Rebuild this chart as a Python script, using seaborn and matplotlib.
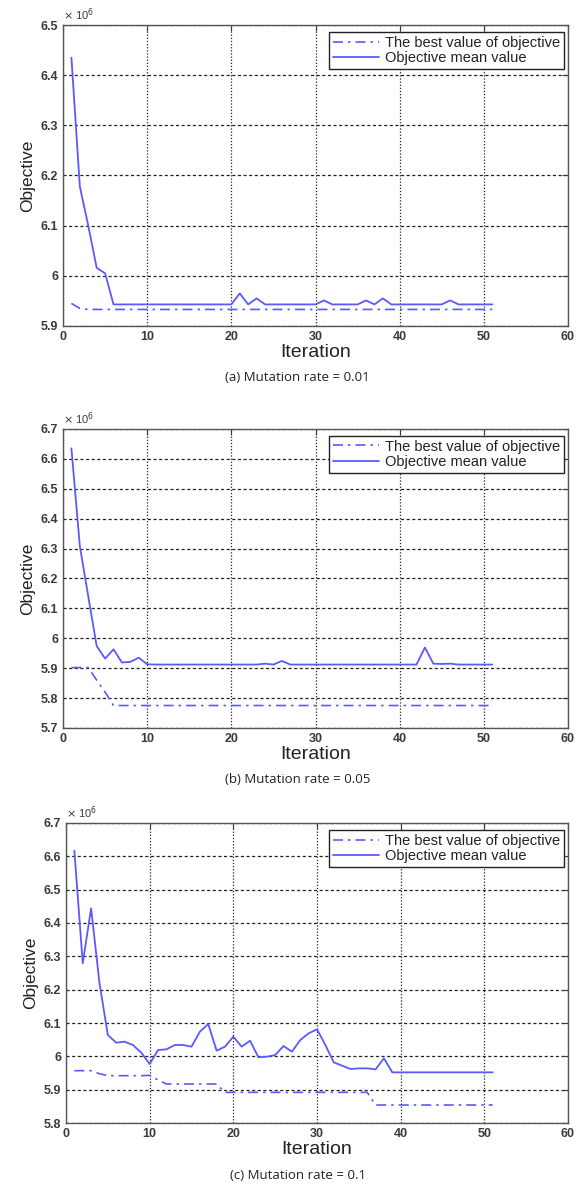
import numpy as np
import pandas as pd
import seaborn as sns
import matplotlib.pyplot as plt
from matplotlib.ticker import FuncFormatter

# 迭代次数
iters = list(range(1, 52))

# (a) Mutation rate = 0.01  (单位 ×10^6)
mean_a = ([6.435, 6.178, 6.100, 6.016, 6.005] + [5.943] * 15 +
          [5.965, 5.943, 5.955] + [5.943] * 7 + [5.951] + [5.943] * 4 +
          [5.951, 5.943, 5.955] + [5.943] * 7 + [5.951] + [5.943] * 5)
best_a = [5.945, 5.935] + [5.933] * 49

# (b) Mutation rate = 0.05
mean_b = ([6.635, 6.308, 6.140, 5.974, 5.932, 5.963, 5.919, 5.921, 5.935, 5.913] +
          [5.912] * 13 + [5.915, 5.912, 5.924] + [5.912] * 16 +
          [5.969, 5.915, 5.914, 5.915] + [5.912] * 5)
best_b = [5.902, 5.902, 5.902, 5.860, 5.820] + [5.775] * 46

# (c) Mutation rate = 0.1
mean_c = ([6.617, 6.279, 6.444, 6.220, 6.064, 6.041, 6.044, 6.034, 6.011, 5.977,
           6.019, 6.021, 6.034, 6.034, 6.029, 6.074, 6.097, 6.017, 6.029, 6.059,
           6.029, 6.047, 5.997, 5.999, 6.004, 6.031, 6.014, 6.049, 6.069, 6.081,
           6.034, 5.982, 5.972, 5.962, 5.964, 5.964, 5.961, 5.994] + [5.952] * 13)
best_c = ([5.957] * 3 + [5.948] + [5.942] * 5 + [5.943, 5.929] + [5.917] * 7 +
          [5.892] * 18 + [5.854] * 15)

captions = ["(a) Mutation rate = 0.01", "(b) Mutation rate = 0.05", "(c) Mutation rate = 0.1"]
ylims = [(5.9, 6.5), (5.7, 6.7), (5.8, 6.7)]

sns.set_style("white")
plt.rcParams['font.family'] = ['Liberation Sans', 'DejaVu Sans']

line_color = '#5a5aff'
txt_color = '#3a3a3a'

fig = plt.figure(figsize=(5.77, 11.85), dpi=100)
# 各子图位置 (left, bottom, width, height)
boxes = [(0.1092, 0.7249, 0.8752, 0.2540),
         (0.1092, 0.3857, 0.8752, 0.2523),
         (0.1144, 0.0523, 0.8700, 0.2532)]

panels = [(mean_a, best_a), (mean_b, best_b), (mean_c, best_c)]

for i, (mean_v, best_v) in enumerate(panels):
    ax = fig.add_axes(boxes[i])
    df = pd.DataFrame({'Iteration': iters, 'mean': mean_v, 'best': best_v})

    sns.lineplot(data=df, x='Iteration', y='best', ax=ax, color=line_color,
                 linewidth=1.2, linestyle=(0, (6, 3, 1.5, 3)))
    sns.lineplot(data=df, x='Iteration', y='mean', ax=ax, color=line_color,
                 linewidth=1.3)
    lines = ax.get_lines()

    ax.set_xlim(0, 60)
    ax.set_ylim(*ylims[i])
    ax.set_xticks(np.arange(0, 61, 10))
    ax.set_yticks(np.round(np.arange(ylims[i][0], ylims[i][1] + 0.001, 0.1), 2))
    ax.yaxis.set_major_formatter(FuncFormatter(lambda v, p: '%g' % round(v, 2)))

    # 竖线点状，横线短划线
    ax.xaxis.grid(True, color='#222222', linestyle=(0, (1, 1.5)), linewidth=0.9)
    ax.yaxis.grid(True, color='#222222', linestyle=(0, (2.5, 2)), linewidth=0.9)
    ax.tick_params(direction='in', length=4, top=True, right=True,
                   labelsize=9, colors=txt_color, width=0.8)
    for lab in ax.get_xticklabels() + ax.get_yticklabels():
        lab.set_fontweight('bold')
    for sp in ax.spines.values():
        sp.set_color('#555555')
        sp.set_linewidth(1.0)

    ax.set_xlabel('Iteration', fontsize=14, color='#222222', labelpad=1)
    ax.set_ylabel('Objective', fontsize=12.5, color='#222222', labelpad=4)
    ax.text(0.0, 1.008, r'$\times$ 10$^{6}$', transform=ax.transAxes,
            fontsize=8, ha='left', va='bottom', color=txt_color)

    leg = ax.legend(lines, ['The best value of objective', 'Objective mean value'],
                    loc='upper right', bbox_to_anchor=(1 - 4 / 505, 1 - 7 / 301),
                    borderaxespad=0, fancybox=False, framealpha=1,
                    edgecolor='#222222', fontsize=10.5, handlelength=3.2,
                    handletextpad=0.4, borderpad=0.25, labelspacing=0.1)
    leg.get_frame().set_linewidth(1.0)
    for t in leg.get_texts():
        t.set_color('#222222')

    cap_y = boxes[i][1] - 52 / 1185
    fig.text(0.516, cap_y, captions[i], fontsize=9.5, ha='center', va='center',
             family=['Open Sans', 'DejaVu Sans'], color='#222222')

fig.savefig('out.png', dpi=100)
